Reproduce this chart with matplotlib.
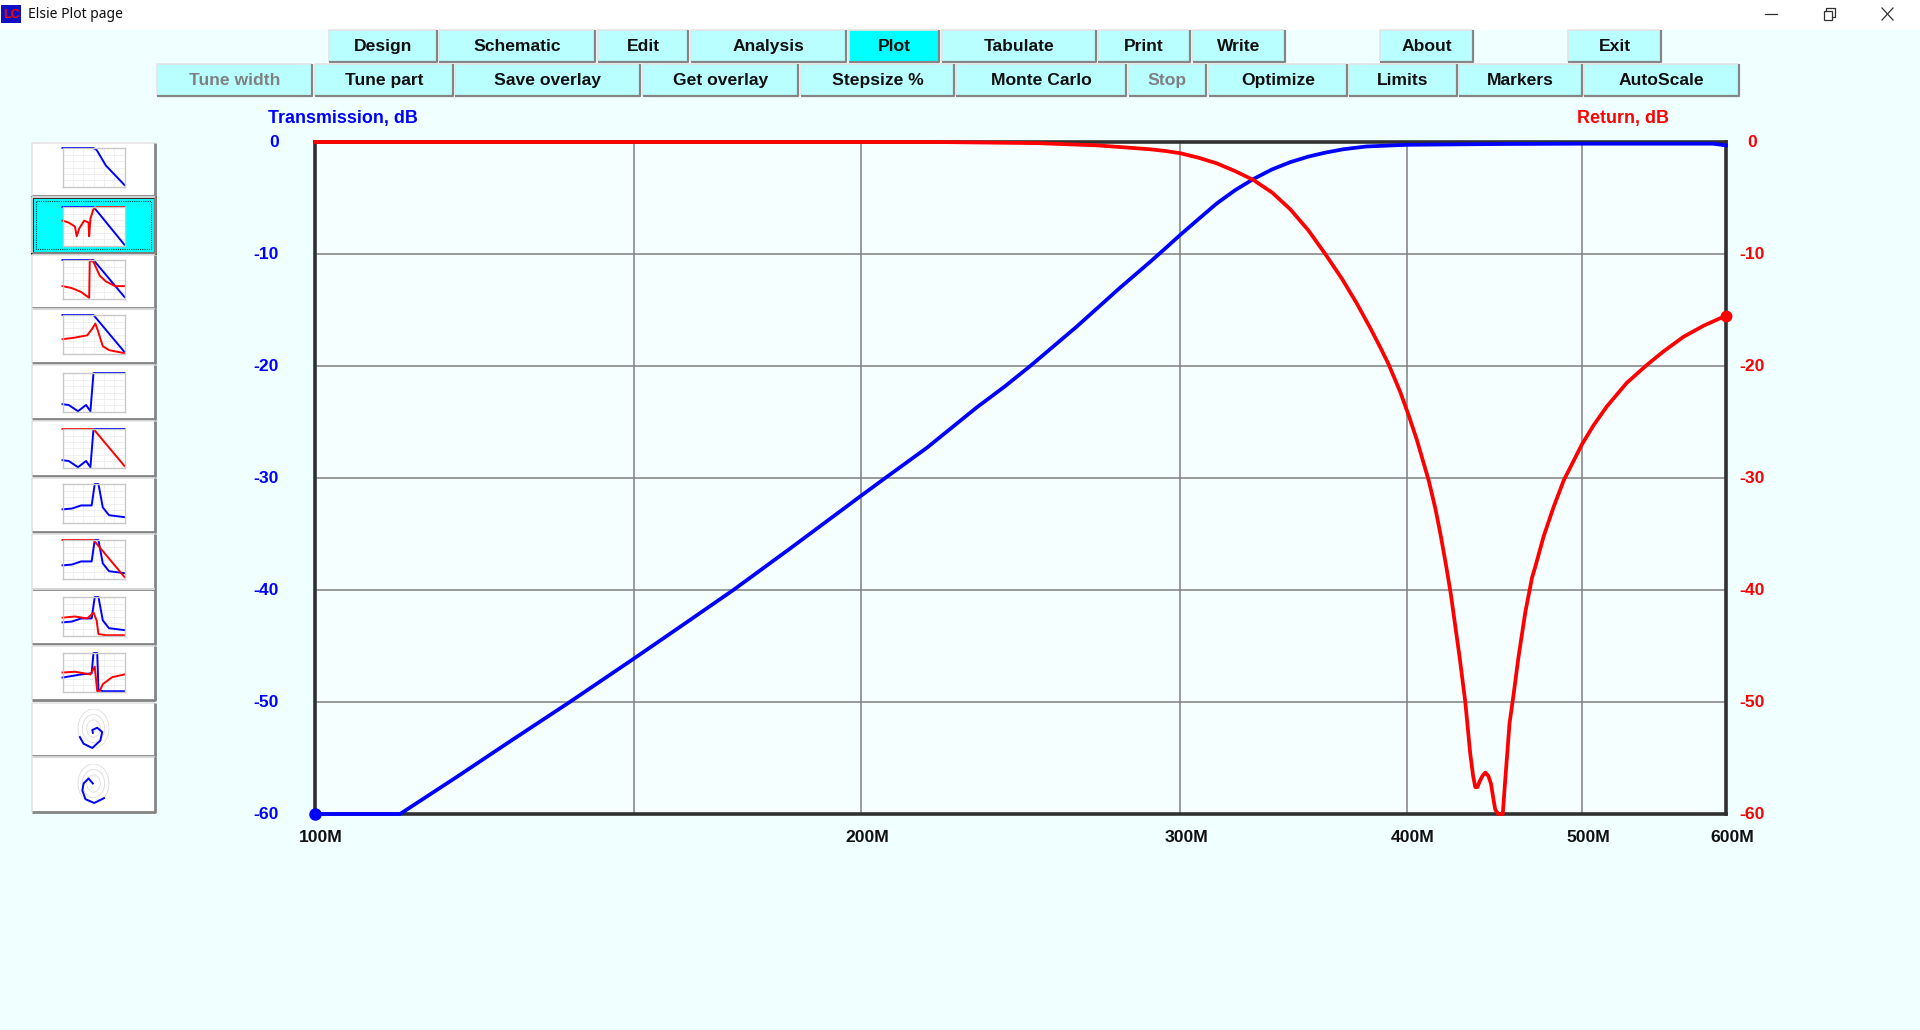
"""Elsie plot page: highpass transmission and return loss, with the window chrome around it."""

import matplotlib
matplotlib.use("Agg")
import matplotlib.pyplot as plt
from matplotlib.patches import Ellipse, Rectangle
from matplotlib.ticker import NullLocator
from matplotlib.transforms import ScaledTranslation

plt.rcParams["font.family"] = "Liberation Sans"
plt.rcParams["axes.unicode_minus"] = False

# measured curves, frequency in MHz
trans_freq = [100, 111.4, 119.7, 127.6, 138.2, 150, 159.6, 170.1, 182.8, 200, 206.7, 217.5, 231.7, 240, 248,
              263, 278, 288.8, 294.4, 300, 307, 314.2, 321.7, 329.3, 337.1, 345, 353.1, 360.7, 369,
              380, 400, 450, 500, 590, 600]
trans_db = [-60, -60, -56.7, -53.7, -50, -46.1, -43.1, -40, -36.3, -31.6, -29.9, -27.3, -23.7, -21.85, -20,
            -16.5, -13, -10.7, -9.5, -8.3, -6.9, -5.5, -4.3, -3.3, -2.45, -1.8, -1.3, -0.95, -0.65,
            -0.4, -0.25, -0.18, -0.15, -0.15, -0.3]

return_freq = [100, 220, 250, 270, 288.8, 294.4, 300, 307, 314.2, 321.7, 329.3, 337.1, 345, 353.1,
               360.7, 368.4, 375.4, 381.9, 386.7, 390.8, 396.7, 401, 405.2, 411.3, 414.8, 417.4, 420.4, 423,
               427.8, 430.9, 433.6, 435.2, 436.4, 437.6, 438.8, 440.4, 442, 443.7, 445.2, 446.5, 447.6,
               449.3, 451.9, 453.3, 455.8, 458, 461, 465, 469, 471, 476, 482, 488.3, 499.7, 507.1,
               515.8, 529, 542.7, 554.2, 568.4, 583.2, 600]
return_db = [0, 0, -0.1, -0.3, -0.65, -0.8, -1.0, -1.4, -1.9, -2.6, -3.4, -4.5, -6.0, -7.9,
             -10.0, -12.2, -14.4, -16.6, -18.3, -19.8, -22.3, -24.4, -26.6, -30.2, -32.7, -34.9, -37.7, -40.3,
             -46, -50, -54.6, -56.6, -57.6, -57.6, -57.1, -56.6, -56.3, -56.6, -57.3, -58.6, -59.6,
             -60, -60, -57, -51.9, -49.5, -46, -42, -38.9, -37.9, -35.2, -32.6, -30.2, -27, -25.3,
             -23.6, -21.5, -19.9, -18.7, -17.4, -16.4, -15.5]

x_ticks = [100, 150, 200, 300, 400, 500, 600]
x_labels = ["100M", "", "200M", "300M", "400M", "500M", "600M"]
y_ticks = [0, -10, -20, -30, -40, -50, -60]

# menu buttons: name, left, right
top_row = [("Design", 329, 437), ("Schematic", 439, 595), ("Edit", 598, 688), ("Analysis", 691, 846),
           ("Plot", 849, 939), ("Tabulate", 942, 1096), ("Print", 1098, 1190), ("Write", 1193, 1285),
           ("About", 1380, 1473), ("Exit", 1568, 1661)]
bottom_row = [("Tune width", 157, 312), ("Tune part", 315, 453), ("Save overlay", 455, 640),
              ("Get overlay", 643, 798), ("Stepsize %", 801, 954), ("Monte Carlo", 956, 1126),
              ("Stop", 1129, 1206), ("Optimize", 1209, 1347), ("Limits", 1349, 1457),
              ("Markers", 1459, 1582), ("AutoScale", 1584, 1739)]
disabled = ["Tune width", "Stop"]

# side panel buttons
side_top = [143, 197, 255, 309, 365, 421, 478, 534, 589, 646, 703, 757]
side_bottom = [196, 253, 308, 363, 419, 476, 532, 589, 644, 700, 756, 812]
thumb_top = [148, 207, 260, 315, 373, 429, 484, 540, 597, 653, 709, 764]

# thumbnail sketches, (x, y) in 0..1 of the thumbnail box
lowpass = [(0, 1), (.5, 1), (.55, .95), (.7, .55), (1, .05)]
lowpass2 = [(0, 1), (.5, 1), (.58, .85), (1, .03)]
ret_dips = [(0, .65), (.1, .6), (.2, .5), (.23, .25), (.27, .45), (.35, .65), (.42, .6), (.43, .25),
            (.45, .7), (.5, .95), (.55, 1), (1, 1)]
group_delay = [(0, .33), (.15, .28), (.3, .18), (.43, .03), (.44, 1), (.5, .95), (.6, .6), (.7, .45),
               (.85, .33), (1, .33)]
delay_peak = [(0, .38), (.2, .42), (.4, .48), (.48, .65), (.53, .78), (.57, .6), (.65, .2), (.75, .1),
              (1, .02)]
ripple = [(0, .2), (.1, .18), (.25, .02), (.38, .18), (.45, .02), (.5, 1), (1, 1)]
falling = [(0, 1), (.5, 1), (1, .05)]
resonance = [(0, .35), (.15, .37), (.3, .45), (.47, .45), (.52, 1), (.58, 1), (.65, .4), (.75, .2), (1, .15)]
step_down = [(0, .47), (.2, .5), (.4, .45), (.5, .6), (.55, .4), (.58, .05), (.7, .02), (1, .02)]
narrow_peak = [(0, .37), (.3, .45), (.47, .48), (.5, 1), (.56, 1), (.58, .05), (.65, .02), (1, .02)]
snap_back = [(0, .5), (.2, .52), (.45, .45), (.52, .65), (.56, .02), (.6, .03), (.65, .2), (.8, .38), (1, .45)]
spiral_in = [(.28, .28), (.34, .11), (.48, 0), (.61, .19), (.64, .41), (.56, .52), (.48, .46), (.49, .39)]
spiral_out = [(.49, .5), (.42, .63), (.34, .5), (.32, .32), (.37, .1), (.51, 0), (.67, .125)]

thumb_blue = [lowpass, lowpass2, falling, falling, ripple, ripple, resonance, resonance, resonance,
              narrow_peak, spiral_in, spiral_out]
thumb_red = [None, ret_dips, group_delay, delay_peak, None, falling, None, falling, step_down,
             snap_back, None, None]

W, H = 1920, 1030
BG = "#F0FFFF"
BTN = "#B9FFFF"
BLUE = "#0000FF"
RED = "#FF0000"

fig = plt.figure(figsize=(W / 100, H / 100), dpi=100, facecolor=BG)


def pixel_axes(x0, y0, x1, y1, **kwargs):
    """Axes placed by screen pixels, y counted from the top."""
    return fig.add_axes([x0 / W, 1 - y1 / H, (x1 - x0) / W, (y1 - y0) / H], **kwargs)


ui = pixel_axes(0, 0, W, H)
ui.set_xlim(0, W)
ui.set_ylim(H, 0)
ui.axis("off")


def draw_button(x0, y0, x1, y1, face, shade=1.6):
    ui.add_patch(Rectangle((x0, y0), x1 - x0, y1 - y0, facecolor=face, edgecolor="none"))
    ui.plot([x0, x0, x1], [y1, y0, y0], color="#E4E4E4", lw=1.2, solid_capstyle="butt")
    ui.plot([x0, x1, x1], [y1, y1, y0], color="#858585", lw=shade, solid_capstyle="butt")


# title bar
ui.add_patch(Rectangle((0, 0), W, 30, facecolor="white", edgecolor="none"))
ui.add_patch(Rectangle((1, 5), 20, 18, facecolor="#1010C0", edgecolor="none"))
ui.text(11, 14.5, "LC", color=RED, fontsize=9, fontweight="bold", ha="center", va="center")
ui.text(27.5, 15, "Elsie Plot page", fontsize=10, family="Noto Sans", color="#101010", va="center")
ui.plot([1765, 1777], [13.5, 13.5], color="#303030", lw=0.9)
ui.add_patch(Rectangle((1823.5, 10.5), 8.5, 9, facecolor="white", edgecolor="#303030", lw=0.9))
ui.plot([1826, 1826, 1835, 1835, 1832], [10.5, 8, 8, 17, 17], color="#303030", lw=0.9)
ui.plot([1882, 1893], [8, 20], color="#303030", lw=0.9)
ui.plot([1882, 1893], [20, 8], color="#303030", lw=0.9)

# menu rows
for row, y0, y1 in [(top_row, 30, 62), (bottom_row, 64, 96)]:
    for name, x0, x1 in row:
        draw_button(x0, y0, x1, y1, "#00FFFF" if name == "Plot" else BTN)
        ui.text((x0 + x1) / 2, (y0 + y1) / 2 + 0.5, name, fontsize=12.6, fontweight="bold",
                color="#808080" if name in disabled else "#101010", ha="center", va="center")

# side panel
for i, (y0, y1, t0) in enumerate(zip(side_top, side_bottom, thumb_top)):
    selected = i == 1
    draw_button(32, y0, 155, y1, "#00FFFF" if selected else "white", shade=2.0)
    if selected:
        ui.add_patch(Rectangle((32, y0), 123, y1 - y0, facecolor="none", edgecolor="#303030", lw=2.2))
        ui.add_patch(Rectangle((36, y0 + 4), 115, y1 - y0 - 8, facecolor="none", edgecolor="#104040",
                               lw=0.8, linestyle=(0, (1, 1))))
    thumb = pixel_axes(62.5, t0, 124.5, t0 + 39, facecolor="white", zorder=2)
    thumb.set_xlim(0, 1)
    thumb.set_ylim(0, 1)
    thumb.set_xticks([])
    thumb.set_yticks([])
    polar = i >= 10
    if polar:
        for spine in thumb.spines.values():
            spine.set_visible(False)
        for scale in [1, 0.72, 0.44]:
            thumb.add_patch(Ellipse((.5, .5), .5 * scale, scale, facecolor="none", edgecolor="#DDDDDD", lw=0.6))
    else:
        for spine in thumb.spines.values():
            spine.set_color("#C8C8C8")
            spine.set_linewidth(1.0)
        for g in [.17, .33, .5, .67, .83]:
            thumb.axvline(g, color="#EEEEEE", lw=0.6)
            thumb.axhline(g, color="#EEEEEE", lw=0.6)
    for pts, color in [(thumb_blue[i], BLUE), (thumb_red[i], RED)]:
        if pts is None:
            continue
        thumb.plot([p[0] for p in pts], [p[1] for p in pts], color=color, lw=1.4, clip_on=False)

# main chart
ax = pixel_axes(315, 142, 1726, 814, facecolor="#F6FFFF", zorder=3)
ax.set_xscale("log")
ax.set_xlim(100, 600)
ax.set_ylim(-60, 0)
ax.set_axisbelow(True)
ax.grid(True, color="#808080", lw=1.1)
for spine in ax.spines.values():
    spine.set_color("#303030")
    spine.set_linewidth(2.6)

ax.plot(trans_freq, trans_db, color=BLUE, lw=2.7, clip_on=False, zorder=4)
ax.plot(trans_freq[0], trans_db[0], "o", color=BLUE, ms=8, clip_on=False, zorder=5)

ax.set_xticks(x_ticks, x_labels)
ax.xaxis.set_minor_locator(NullLocator())
ax.set_yticks(y_ticks)
ax.tick_params(axis="x", length=0, pad=11.5, labelsize=12.6, labelcolor="#101010")
ax.tick_params(axis="y", length=0, pad=26, labelsize=12.6, labelcolor=BLUE)
up_1px = ScaledTranslation(0, 1 / 100, fig.dpi_scale_trans)
for label in ax.get_xticklabels():
    label.set_fontweight("bold")
    label.set_transform(label.get_transform() + ScaledTranslation(6 / 100, 0, fig.dpi_scale_trans))
for label in ax.get_yticklabels():
    label.set_fontweight("bold")
    label.set_transform(label.get_transform() + up_1px)

ret = ax.twinx()
ret.set_xlim(100, 600)
ret.set_ylim(-60, 0)
for spine in ret.spines.values():
    spine.set_visible(False)
ret.plot(return_freq, return_db, color=RED, lw=2.7, clip_on=False, zorder=4)
ret.plot(return_freq[-1], return_db[-1], "o", color=RED, ms=7.5, clip_on=False, zorder=5)
ret.set_yticks(y_ticks)
ret.tick_params(axis="y", length=0, pad=19, labelsize=12.6, labelcolor=RED)
for label in ret.get_yticklabels():
    label.set_fontweight("bold")
    label.set_ha("center")
    label.set_transform(label.get_transform() + up_1px)

ui.text(268, 119, "Transmission, dB", color=BLUE, fontsize=12.9, fontweight="bold", va="center")
ui.text(1577, 119, "Return, dB", color=RED, fontsize=12.9, fontweight="bold", va="center")

fig.savefig("out.png", dpi=100, facecolor=BG)
